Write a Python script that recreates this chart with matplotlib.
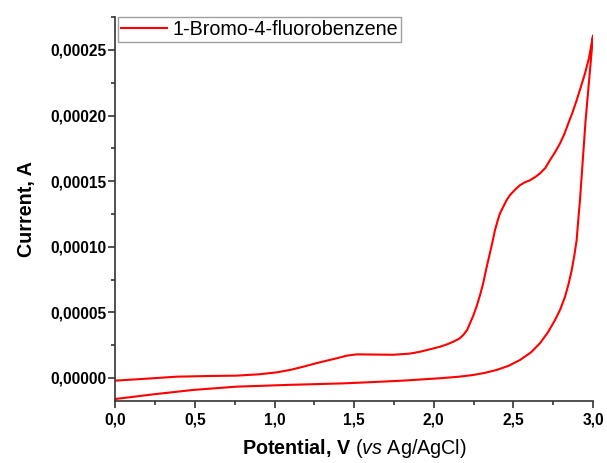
import matplotlib.pyplot as plt
from matplotlib.ticker import MultipleLocator, FuncFormatter

plt.rcParams["font.family"] = ["Liberation Sans", "DejaVu Sans"]
plt.rcParams["mathtext.fontset"] = "custom"
plt.rcParams["mathtext.rm"] = "Liberation Sans"
plt.rcParams["mathtext.bf"] = "Liberation Sans:bold"
plt.rcParams["mathtext.it"] = "Liberation Sans:italic"

# forward scan (0 -> 3 V)
fwd_v = [0.0, 0.2, 0.384, 0.58, 0.761, 0.9, 1.013, 1.10, 1.18, 1.26, 1.327,
         1.40, 1.452, 1.515, 1.60, 1.745, 1.85, 1.913, 1.98, 2.038, 2.08,
         2.122, 2.16, 2.185, 2.21, 2.227, 2.248, 2.268, 2.29, 2.310, 2.33,
         2.352, 2.37, 2.384, 2.40, 2.415, 2.436, 2.457, 2.478, 2.51, 2.541,
         2.57, 2.604, 2.635, 2.666, 2.70, 2.729, 2.76, 2.792, 2.82, 2.844,
         2.87, 2.897, 2.92, 2.949, 2.975, 3.0]
fwd_i = [-2.0e-6, -0.5e-6, 1.0e-6, 1.5e-6, 1.8e-6, 2.8e-6, 4.3e-6, 6.2e-6,
         8.6e-6, 11.2e-6, 13.2e-6, 15.3e-6, 17.0e-6, 18.0e-6, 17.9e-6,
         17.7e-6, 18.6e-6, 20.0e-6, 22.0e-6, 23.8e-6, 25.5e-6, 27.6e-6,
         30.0e-6, 32.7e-6, 36.8e-6, 41.6e-6, 47.5e-6, 54.3e-6, 63.0e-6,
         72.1e-6, 83.5e-6, 94.9e-6, 104.5e-6, 112.6e-6, 119.5e-6, 125.3e-6,
         130.4e-6, 135.5e-6, 139.3e-6, 143.5e-6, 146.9e-6, 149.0e-6,
         150.7e-6, 153.0e-6, 155.8e-6, 160.0e-6, 165.9e-6, 171.8e-6,
         178.6e-6, 186.0e-6, 193.8e-6, 202.0e-6, 211.6e-6, 220.5e-6,
         231.9e-6, 244.0e-6, 261.0e-6]

# reverse scan (3 -> 0 V)
rev_v = [3.0, 2.953, 2.918, 2.907, 2.897, 2.882, 2.866, 2.846, 2.824, 2.795,
         2.761, 2.715, 2.666, 2.61, 2.541, 2.47, 2.394, 2.32, 2.248, 2.16,
         2.038, 1.808, 1.60, 1.431, 1.10, 0.761, 0.489, 0.25, 0.0]
rev_i = [261.0e-6, 196.0e-6, 135.5e-6, 120.2e-6, 105.0e-6, 93.0e-6, 82.2e-6,
         71.5e-6, 61.9e-6, 52.5e-6, 44.1e-6, 34.5e-6, 26.4e-6, 19.5e-6,
         13.7e-6, 9.3e-6, 6.1e-6, 3.9e-6, 2.3e-6, 1.0e-6, -0.2e-6, -2.0e-6,
         -3.2e-6, -4.1e-6, -5.2e-6, -6.6e-6, -9.1e-6, -12.3e-6, -16.0e-6]

volts = fwd_v + rev_v[1:]
current = fwd_i + rev_i[1:]

fig = plt.figure(figsize=(6.07, 4.63), dpi=100)
ax = fig.add_axes([0.190, 0.134, 0.787, 0.829])
ax.plot(volts, current, color="#ff0000", linewidth=1.5,
        label="1-Bromo-4-fluorobenzene")

ax.set_xlim(0, 3.0)
ax.set_ylim(-0.0000175, 0.000275)
ax.xaxis.set_major_locator(MultipleLocator(0.5))
ax.xaxis.set_minor_locator(MultipleLocator(0.25))
ax.yaxis.set_major_locator(MultipleLocator(0.00005))
ax.yaxis.set_minor_locator(MultipleLocator(0.000025))
ax.xaxis.set_major_formatter(FuncFormatter(lambda v, p: f"{v:.1f}".replace(".", ",")))
ax.yaxis.set_major_formatter(FuncFormatter(lambda v, p: f"{v:.5f}".replace(".", ",")))

for s in ("top", "right"):
    ax.spines[s].set_visible(False)
for s in ("left", "bottom"):
    ax.spines[s].set_color("#333333")
    ax.spines[s].set_linewidth(1.2)
ax.tick_params(which="major", direction="out", length=5, width=1.2,
               color="#333333", labelsize=11.2, pad=3)
ax.tick_params(which="minor", direction="out", length=3, width=1.2,
               color="#333333")
ax.tick_params(axis="y", which="major", pad=1.5)
for lbl in ax.get_xticklabels() + ax.get_yticklabels():
    lbl.set_fontweight("bold")

ax.set_ylabel("Current, A", fontsize=14.2, fontweight="bold", labelpad=10)
ax.set_xlabel(r"$\mathbf{Potential{,}\ V}$ ($\mathit{vs}$ Ag/AgCl)",
              fontsize=14.2, labelpad=7)

leg = ax.legend(loc="upper left", bbox_to_anchor=(0.006, 1.0),
                borderaxespad=0, fancybox=False, fontsize=14.2,
                handlelength=2.3, handletextpad=0.3, borderpad=0.15)
leg.get_frame().set_edgecolor("#888888")
leg.get_frame().set_linewidth(1.0)

fig.savefig("out.png", dpi=100)
